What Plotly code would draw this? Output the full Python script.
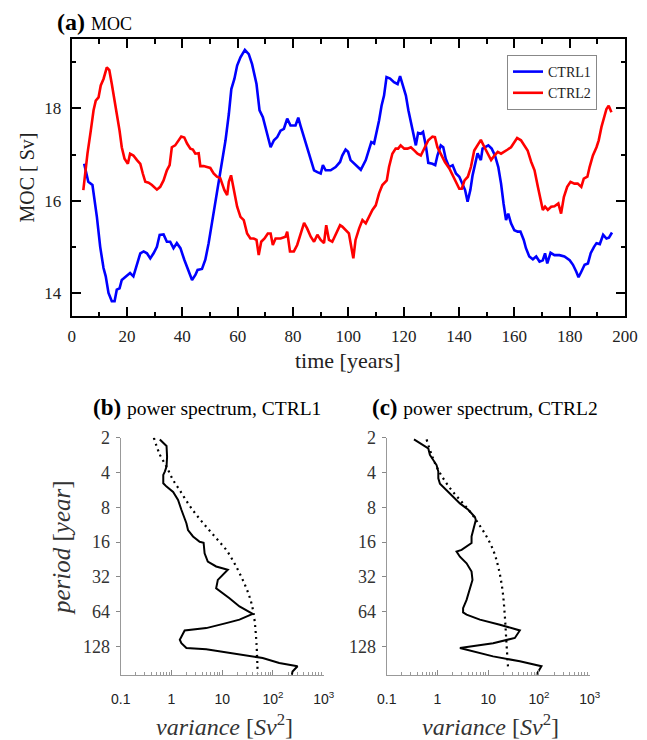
import numpy as np
import plotly.graph_objects as go

# ---------------- data: panel (a) MOC time series ----------------
years1 = [4.5, 6.0, 7.5, 9.1, 10.3, 11.5, 12.3, 13.3, 14.5, 15.5,
          16.3, 17.3, 18.1, 19.9, 21.1, 22.3, 23.6, 24.8, 26.0, 27.2,
          28.4, 29.6, 30.8, 31.8, 33.2, 34.4, 35.6, 36.8, 38.0, 39.3,
          40.7, 42.3, 43.5, 44.7, 45.5, 47.1, 48.3, 49.5, 50.7, 51.9,
          53.1, 54.3, 55.6, 56.8, 57.7, 58.8, 59.8, 61.0, 62.6, 64.0,
          65.2, 66.8, 67.9, 69.1, 70.4, 71.9, 73.1, 74.3, 75.5, 76.7,
          77.9, 79.1, 80.9, 81.9, 82.7, 83.9, 85.1, 86.4, 87.6, 88.8,
          90.0, 90.8, 91.8, 93.6, 95.4, 97.0, 97.8, 99.0, 99.9, 100.8,
          102.7, 104.5, 106.3, 107.5, 108.3, 109.3, 110.1, 111.1, 112.0, 112.9,
          113.8, 115.1, 116.5, 117.8, 118.7, 119.6, 120.8, 121.7, 122.8, 123.8,
          124.4, 125.2, 126.2, 127.0, 128.0, 128.9, 130.4, 131.4, 132.2, 133.4,
          134.3, 135.2, 136.4, 137.7, 138.9, 140.1, 141.3, 142.2, 143.1, 144.1,
          144.9, 146.1, 146.7, 147.3, 147.9, 148.5, 149.4, 150.6, 151.8, 153.0,
          154.2, 155.2, 156.1, 157.0, 157.8, 158.8, 160.0, 161.2, 162.2, 163.4,
          164.2, 165.4, 166.7, 167.9, 169.1, 170.3, 171.1, 171.9, 173.1, 174.5,
          176.3, 178.1, 180.0, 181.2, 182.4, 183.2, 184.2, 185.4, 186.6, 187.6,
          188.8, 189.7, 190.9, 192.1, 193.3, 194.2, 195.3]
moc1 = [16.80, 16.41, 16.34, 15.65, 15.0, 14.54, 14.36, 14.0, 13.82, 13.82,
        14.07, 14.1, 14.28, 14.36, 14.43, 14.36, 14.64, 14.86, 14.9, 14.86,
        14.75, 14.86, 15.0, 15.26, 15.27, 15.11, 15.11, 14.97, 15.08, 14.97,
        14.72, 14.46, 14.28, 14.39, 14.5, 14.52, 14.72, 15.08, 15.51, 15.94,
        16.37, 16.8, 17.31, 17.88, 18.42, 18.64, 18.93, 19.11, 19.27, 19.18,
        18.96, 18.53, 17.96, 17.81, 17.52, 17.16, 17.31, 17.38, 17.52, 17.56,
        17.78, 17.63, 17.63, 17.8, 17.63, 17.38, 17.13, 16.88, 16.66, 16.62,
        16.59, 16.77, 16.66, 16.66, 16.73, 16.84, 16.98, 17.11, 17.06, 16.88,
        16.77, 16.67, 16.88, 17.13, 17.27, 17.24, 17.45, 17.74, 18.06, 18.28,
        18.68, 18.65, 18.57, 18.53, 18.7, 18.5, 18.28, 17.96, 17.67, 17.38,
        17.2, 17.47, 17.45, 17.49, 17.2, 16.82, 16.8, 16.77, 16.98, 17.2,
        17.16, 16.91, 16.73, 16.77, 16.59, 16.52, 16.37, 16.23, 15.98, 16.23,
        16.55, 16.88, 17.03, 16.95, 16.88, 17.13, 17.16, 17.2, 17.13, 16.98,
        16.73, 16.37, 15.94, 15.58, 15.72, 15.51, 15.36, 15.33, 15.33, 15.15,
        14.97, 14.79, 14.73, 14.79, 14.68, 14.71, 14.86, 14.64, 14.87, 14.82,
        14.82, 14.79, 14.71, 14.61, 14.46, 14.34, 14.46, 14.61, 14.64, 14.86,
        15.0, 15.08, 15.06, 15.26, 15.18, 15.2, 15.31]

years2 = [4.2, 4.8, 5.7, 6.9, 7.9, 8.7, 9.7, 10.5, 11.5, 12.7,
          13.6, 14.5, 15.5, 16.3, 17.3, 18.1, 19.1, 20.3, 21.1, 22.3,
          23.6, 24.8, 25.7, 26.6, 27.8, 29.0, 30.8, 32.0, 33.2, 34.4,
          35.4, 36.2, 37.4, 38.6, 39.6, 40.7, 41.7, 42.9, 43.8, 44.7,
          45.9, 46.5, 47.7, 48.9, 50.1, 51.3, 52.5, 53.7, 55.2, 56.2,
          56.8, 57.6, 58.6, 59.8, 61.0, 62.2, 63.4, 64.6, 65.8, 66.8,
          67.6, 68.5, 69.7, 70.9, 71.9, 72.7, 73.7, 75.5, 77.3, 77.9,
          78.9, 80.3, 81.5, 82.7, 84.0, 85.1, 86.4, 87.6, 88.8, 90.0,
          91.2, 92.0, 93.0, 94.2, 95.4, 97.0, 97.8, 99.0, 100.2, 101.8,
          102.6, 103.9, 105.1, 106.3, 107.5, 108.7, 109.9, 111.1, 112.3, 113.9,
          114.7, 115.9, 117.1, 118.0, 118.9, 120.2, 121.4, 122.6, 123.8, 125.0,
          126.2, 127.4, 128.9, 130.4, 131.3, 132.2, 133.4, 134.9, 136.5, 137.7,
          138.9, 140.1, 141.0, 142.0, 143.2, 144.3, 145.5, 146.7, 147.9, 149.2,
          150.4, 151.6, 152.8, 154.0, 155.2, 156.4, 157.6, 158.8, 160.0, 161.0,
          162.4, 163.6, 164.8, 166.1, 167.3, 168.5, 169.5, 170.3, 171.1, 172.1,
          173.3, 174.5, 175.9, 176.9, 177.9, 179.1, 180.3, 181.7, 182.9, 184.2,
          185.1, 186.4, 187.2, 188.4, 189.7, 190.5, 191.5, 192.4, 193.3, 194.1,
          195.1]
moc2 = [16.23, 16.59, 17.02, 17.52, 17.96, 18.17, 18.24, 18.5, 18.64, 18.89,
        18.83, 18.53, 18.21, 17.88, 17.52, 17.16, 16.91, 16.8, 17.02, 16.98,
        16.88, 16.8, 16.59, 16.41, 16.39, 16.34, 16.24, 16.3, 16.44, 16.66,
        16.77, 17.16, 17.2, 17.31, 17.39, 17.37, 17.24, 17.13, 17.11, 17.02,
        17.03, 16.75, 16.75, 16.73, 16.71, 16.59, 16.52, 16.49, 16.23, 16.12,
        16.41, 16.55, 16.23, 15.87, 15.65, 15.58, 15.29, 15.18, 15.18, 15.15,
        14.82, 15.11, 15.18, 15.29, 15.29, 15.04, 15.18, 15.18, 15.22, 15.33,
        14.9, 14.9, 15.04, 15.29, 15.52, 15.4, 15.22, 15.11, 15.26, 15.15,
        15.08, 15.47, 15.15, 15.11, 15.26, 15.47, 15.44, 15.36, 15.29, 14.75,
        15.15, 15.4, 15.58, 15.51, 15.65, 15.8, 15.9, 16.16, 16.34, 16.44,
        16.73, 17.02, 17.13, 17.13, 17.2, 17.13, 17.13, 17.16, 17.09, 17.02,
        16.98, 17.13, 17.31, 17.39, 17.38, 17.16, 17.02, 16.84, 16.7, 16.55,
        16.41, 16.26, 16.26, 16.44, 16.52, 16.73, 17.09, 17.2, 17.32, 17.16,
        17.02, 16.88, 16.98, 17.06, 17.02, 17.06, 17.11, 17.16, 17.27, 17.36,
        17.31, 17.2, 17.09, 16.84, 16.66, 16.3, 16.01, 15.8, 15.87, 15.8,
        15.87, 15.88, 15.94, 15.72, 16.08, 16.3, 16.41, 16.37, 16.37, 16.3,
        16.48, 16.52, 16.73, 16.98, 17.16, 17.31, 17.6, 17.81, 17.99, 18.06,
        17.92]

# ---------------- data: panels (b), (c) power spectra ----------------
var_b = [0.59, 0.80, 0.82, 0.80, 0.74, 0.69, 0.69, 0.80, 1.08, 1.35,
         1.57, 1.97, 2.12, 2.66, 3.6, 4.3, 4.5, 5.2, 7.6, 12.9,
         8.2, 7.6, 13.9, 21.9, 39.9, 21.9, 12.0, 4.85, 1.82, 1.46,
         1.57, 1.97, 4.85, 16.2, 62.7, 133, 305, 243, 236]
per_b = [2.07, 2.36, 2.92, 3.56, 3.93, 4.2, 4.96, 5.3, 5.9, 6.9,
         8.4, 11.0, 12.6, 14.3, 15.9, 16.2, 20, 23.6, 26, 27.8,
         34, 40.2, 49, 57.7, 66.8, 75, 80.4, 88.8, 93, 112,
         120, 132, 135, 146, 161, 178, 190, 211, 225]
var_b_red = [0.45, 0.59, 0.80, 1.08, 1.46, 2.12, 3.1, 4.85, 7.6, 12.0, 17.4, 25.4, 34.4, 41.0, 46.4, 50]
per_b_red = [2.0, 2.8, 3.56, 4.66, 5.7, 7.4, 9.3, 11.8, 14.8, 18.7, 24.4, 34, 47.3, 64, 105, 218]

var_c = [0.345, 0.49, 0.66, 0.71, 0.89, 0.96, 1.04, 1.04, 1.12, 1.51,
         2.05, 2.77, 4.05, 5.47, 5.7, 5.07, 4.7, 4.7, 3.75, 2.99,
         2.38, 2.77, 3.75, 4.7, 4.9, 4.36, 3.75, 3.2, 3.2, 3.75,
         6.86, 17, 42, 33.5, 12.5, 2.77, 12.5, 42, 112, 89]
per_c = [2.07, 2.3, 2.48, 2.82, 3.23, 3.45, 3.93, 4.5, 5.0, 5.7,
         6.5, 7.4, 8.4, 9.7, 10.3, 12.6, 14.3, 16.3, 17.5, 18.7,
         19.3, 21.4, 24.4, 28.8, 34, 41.4, 50.6, 59.7, 65, 68,
         75, 83, 93, 108, 120, 132, 156, 172, 190, 225]
var_c_red = [0.61, 0.77, 0.96, 1.30, 1.9, 2.77, 4.36, 6.36, 9.27, 12.5, 15.7, 19.1, 21.3, 22.9, 24.8]
per_c_red = [2.07, 2.82, 3.56, 4.5, 5.7, 6.9, 8.7, 11, 14.3, 18.7, 26, 41.4, 70.6, 120, 204]

period_ticks = [2, 4, 8, 16, 32, 64, 128]
var_tickvals = [0.1, 1, 10, 100, 1000]
var_ticktext = ["0.1", "1", "10", "10<sup>2</sup>", "10<sup>3</sup>"]
minor_var = [m * 10.0 ** e for e in range(-1, 3) for m in range(2, 10)]

W, H = 647, 740
SERIF = "Liberation Serif"
SANS = "Liberation Sans"

fig = go.Figure()
fig.add_trace(go.Scatter(x=years1, y=moc1, mode="lines", name="CTRL1",
                         line=dict(color="#0000ff", width=2.6), xaxis="x", yaxis="y"))
fig.add_trace(go.Scatter(x=years2, y=moc2, mode="lines", name="CTRL2",
                         line=dict(color="#ff0000", width=2.6), xaxis="x", yaxis="y"))

fig.add_trace(go.Scatter(x=var_b, y=per_b, mode="lines", showlegend=False,
                         line=dict(color="black", width=2), xaxis="x2", yaxis="y2"))
fig.add_trace(go.Scatter(x=var_b_red, y=per_b_red, mode="lines", showlegend=False,
                         line=dict(color="black", width=2.2, dash="2px,4px", shape="spline"),
                         xaxis="x2", yaxis="y2"))
fig.add_trace(go.Scatter(x=var_c, y=per_c, mode="lines", showlegend=False,
                         line=dict(color="black", width=2), xaxis="x3", yaxis="y3"))
fig.add_trace(go.Scatter(x=var_c_red, y=per_c_red, mode="lines", showlegend=False,
                         line=dict(color="black", width=2.2, dash="2px,4px", shape="spline"),
                         xaxis="x3", yaxis="y3"))

def px(x):
    return x / W

def py(y):
    return 1 - y / H

frame = dict(showline=True, linewidth=2, linecolor="black", mirror="ticks",
             ticks="inside", tickwidth=1.6, tickcolor="black", showgrid=False,
             zeroline=False, automargin=False,
             tickfont=dict(family=SERIF, size=17, color="#222"))

ax_a = dict(frame, domain=[px(71.7), px(625)], range=[0, 200], dtick=20, tick0=0,
            ticklen=9, minor=dict(ticks="inside", dtick=10, ticklen=4.5, tickwidth=1.6,
                                  tickcolor="black"),
            anchor="y", ticklabelstandoff=4)
ay_a = dict(frame, domain=[py(316), py(39.3)], range=[13.5, 19.5], tickvals=[14, 16, 18],
            ticklen=9, minor=dict(ticks="inside", tickvals=[14, 15, 16, 17, 18, 19],
                                  ticklen=4.5, tickwidth=1.6, tickcolor="black"),
            anchor="x", ticklabelstandoff=5)

spec_y = dict(type="log", range=[np.log10(226), np.log10(2)], tickvals=period_ticks,
              ticks="outside", ticklen=4, tickcolor="#888", tickwidth=1,
              showline=True, linecolor="#999", linewidth=1, showgrid=False, zeroline=False,
              automargin=False,
              tickfont=dict(family=SERIF, size=18, color="#333"), ticklabelstandoff=2,
              domain=[py(675), py(437.7)])
spec_x = dict(type="log", range=[-1, 3], tickvals=var_tickvals, ticktext=var_ticktext,
              ticks="inside", ticklen=5, tickcolor="#888", tickwidth=1,
              minor=dict(ticks="inside", tickvals=minor_var, ticklen=3, tickcolor="#999",
                         tickwidth=1),
              showline=True, linecolor="#999", linewidth=1, showgrid=False, zeroline=False,
              automargin=False,
              tickfont=dict(family=SANS, size=14, color="#222"), ticklabelstandoff=11)

fig.update_layout(
    width=W, height=H,
    margin=dict(l=0, r=0, t=0, b=0, pad=0, autoexpand=False),
    paper_bgcolor="white", plot_bgcolor="white",
    font=dict(family=SERIF, color="black"),
    xaxis=ax_a, yaxis=ay_a,
    xaxis2=dict(spec_x, domain=[px(120.7), px(323.7)], anchor="y2"),
    yaxis2=dict(spec_y, anchor="x2"),
    xaxis3=dict(spec_x, domain=[px(386.7), px(589.7)], anchor="y3"),
    yaxis3=dict(spec_y, anchor="x3"),
    legend=dict(x=px(597), y=py(55), xanchor="right", yanchor="top",
                bgcolor="white", bordercolor="#888", borderwidth=1,
                font=dict(family=SERIF, size=14, color="#222"),
                itemwidth=30, tracegroupgap=0),
    showlegend=True,
)

def note(text, x, y, size, color="black", angle=0, xanchor="center"):
    return dict(text=text, x=px(x), y=py(y), xref="paper", yref="paper",
                xanchor=xanchor, yanchor="middle", textangle=angle, showarrow=False,
                font=dict(family=SERIF, size=size, color=color))

ann = [
    note("<b>(a)</b> <span style='font-size:18px'>MOC</span>", 55, 22, 24, xanchor="left"),
    note("MOC [ Sv]", 26, 177.5, 20, "#222", angle=-90),
    note("time [years]", 348, 360, 22, "#222"),
    note("<b>(b)</b> <span style='font-size:19.5px'>power spectrum, CTRL1</span>",
         91, 407, 23, xanchor="left"),
    note("<b>(c)</b> <span style='font-size:19.5px'>power spectrum, CTRL2</span>",
         370, 407, 23, xanchor="left"),
    note("<i>period</i> [<i>year</i>]", 61, 548, 25, "#333", angle=-90),
    note("<i>variance</i> [<i>Sv</i><sup>2</sup>]", 224, 725, 24, "#333"),
    note("<i>variance</i> [<i>Sv</i><sup>2</sup>]", 490, 725, 24, "#333"),
]
fig.update_layout(annotations=ann)

fig.write_html("out.html", config={"displayModeBar": False},
               post_script="document.body.style.margin='0px';")
